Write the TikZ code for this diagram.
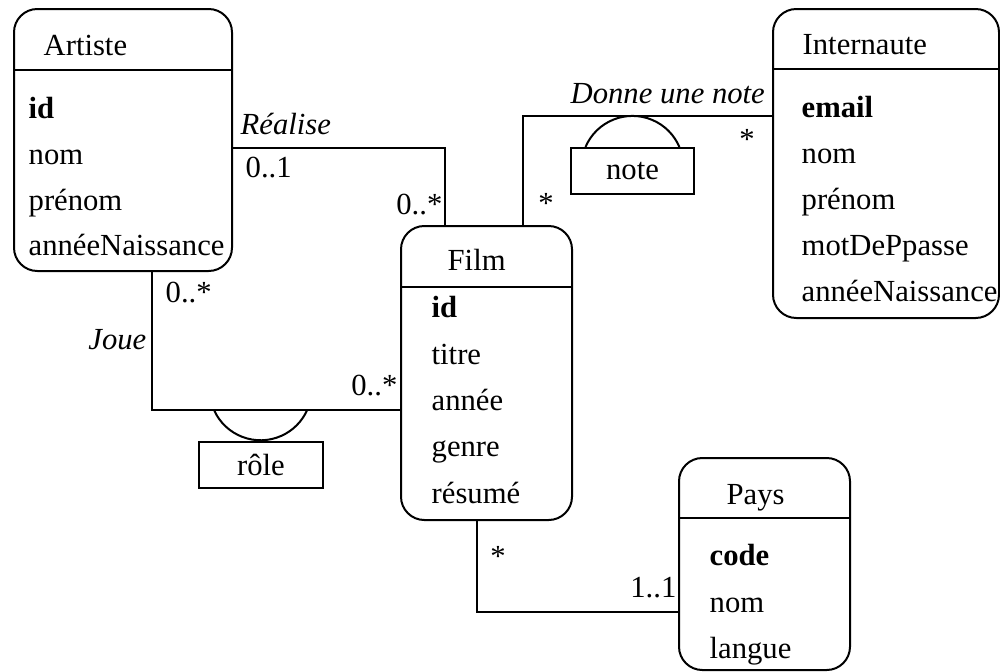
\documentclass[tikz,border=0pt]{standalone}
\usepackage{fontspec}
\setmainfont{Liberation Serif}
\begin{document}
\begin{tikzpicture}[x=0.3pt,y=-0.3pt,
  font=\fontsize{9.2}{11}\selectfont,
  cls/.style={draw, rounded corners=7pt, line width=0.6pt, anchor=north west, inner sep=0pt},
  attr/.style={anchor=base west, inner sep=0pt},
  lbl/.style={anchor=base west, inner sep=0pt},
  lbr/.style={anchor=base east, inner sep=0pt},
  mult/.style={anchor=base, inner sep=0pt},
  lnk/.style={line width=0.6pt},
  qual/.style={draw, line width=0.6pt, inner sep=0pt, anchor=north west, minimum height=13.8pt}]
\useasboundingbox (0,0) rectangle (1000,671);

% classes
\node[cls, minimum width=65.4pt, minimum height=78.6pt] (art) at (13,8) {};
\draw[lnk] (13,70) -- (231,70);
\node[attr] (artT) at (43,55) {Artiste};
\node[attr] (art1) at (28,118) {\textbf{id}};
\node[attr] (art2) at (28,164) {nom};
\node[attr] (art3) at (28,210) {prénom};
\node[attr] (art4) at (28,255) {annéeNaissance};

\node[cls, minimum width=67.8pt, minimum height=92.7pt] (int) at (772,8) {};
\draw[lnk] (772,69) -- (998,69);
\node[attr] (intT) at (802,54) {Internaute};
\node[attr] (int1) at (801,117) {\textbf{email}};
\node[attr] (int2) at (801,163) {nom};
\node[attr] (int3) at (801,209) {prénom};
\node[attr] (int4) at (801,255) {motDePpasse};
\node[attr] (int5) at (801,301) {annéeNaissance};

\node[cls, minimum width=51.3pt, minimum height=88.2pt] (film) at (400,225) {};
\draw[lnk] (400,287) -- (571,287);
\node[attr] (filmT) at (447,270) {Film};
\node[attr] (film1) at (431,317) {\textbf{id}};
\node[attr] (film2) at (431,364) {titre};
\node[attr] (film3) at (431,410) {année};
\node[attr] (film4) at (431,456) {genre};
\node[attr] (film5) at (431,503) {résumé};

\node[cls, minimum width=51.3pt, minimum height=63.6pt] (pays) at (678,457) {};
\draw[lnk] (678,518) -- (849,518);
\node[attr] (paysT) at (726,504) {Pays};
\node[attr] (pays1) at (709,565) {\textbf{code}};
\node[attr] (pays2) at (709,612) {nom};
\node[attr] (pays3) at (709,658) {langue};

% qualifier boxes
\node[qual, minimum width=36.9pt] (note) at (570,147) {note};
\node[qual, minimum width=37.2pt] (role) at (198,441) {rôle};

% connectors
\draw[lnk] (art.east |- 0,148) -| (film.north -| 445,0);
\draw[lnk] (film.north -| 523,0) |- (int.west |- 0,116);
\draw[lnk] (art.south -| 152,0) |- (film.west |- 0,410);
\draw[lnk] (film.south -| 477,0) |- (pays.west |- 0,612);

% qualifier arcs
\draw[lnk] (note.north) ++(-47,0) arc[start angle=203, end angle=337, radius=51];
\draw[lnk] (role.north) ++(-47,-31) arc[start angle=156, end angle=24, radius=51];

% labels
\node[lbl] (lRea) at (240,134) {\itshape Réalise};
\node[lbl] (m1) at (245,177) {0..1};
\node[lbr] (m2) at (443,214) {0..*};
\node[lbl] (lDon) at (570,103) {\itshape Donne une note};
\node[mult] (m3) at (747,149) {*};
\node[mult] (m4) at (546,213) {*};
\node[lbr] (lJoue) at (147,349) {\itshape Joue};
\node[lbl] (m5) at (165,302) {0..*};
\node[lbr] (m6) at (398,395) {0..*};
\node[mult] (m7) at (498,566) {*};
\node[lbr] (m8) at (677,597) {1..1};
\end{tikzpicture}
\end{document}
